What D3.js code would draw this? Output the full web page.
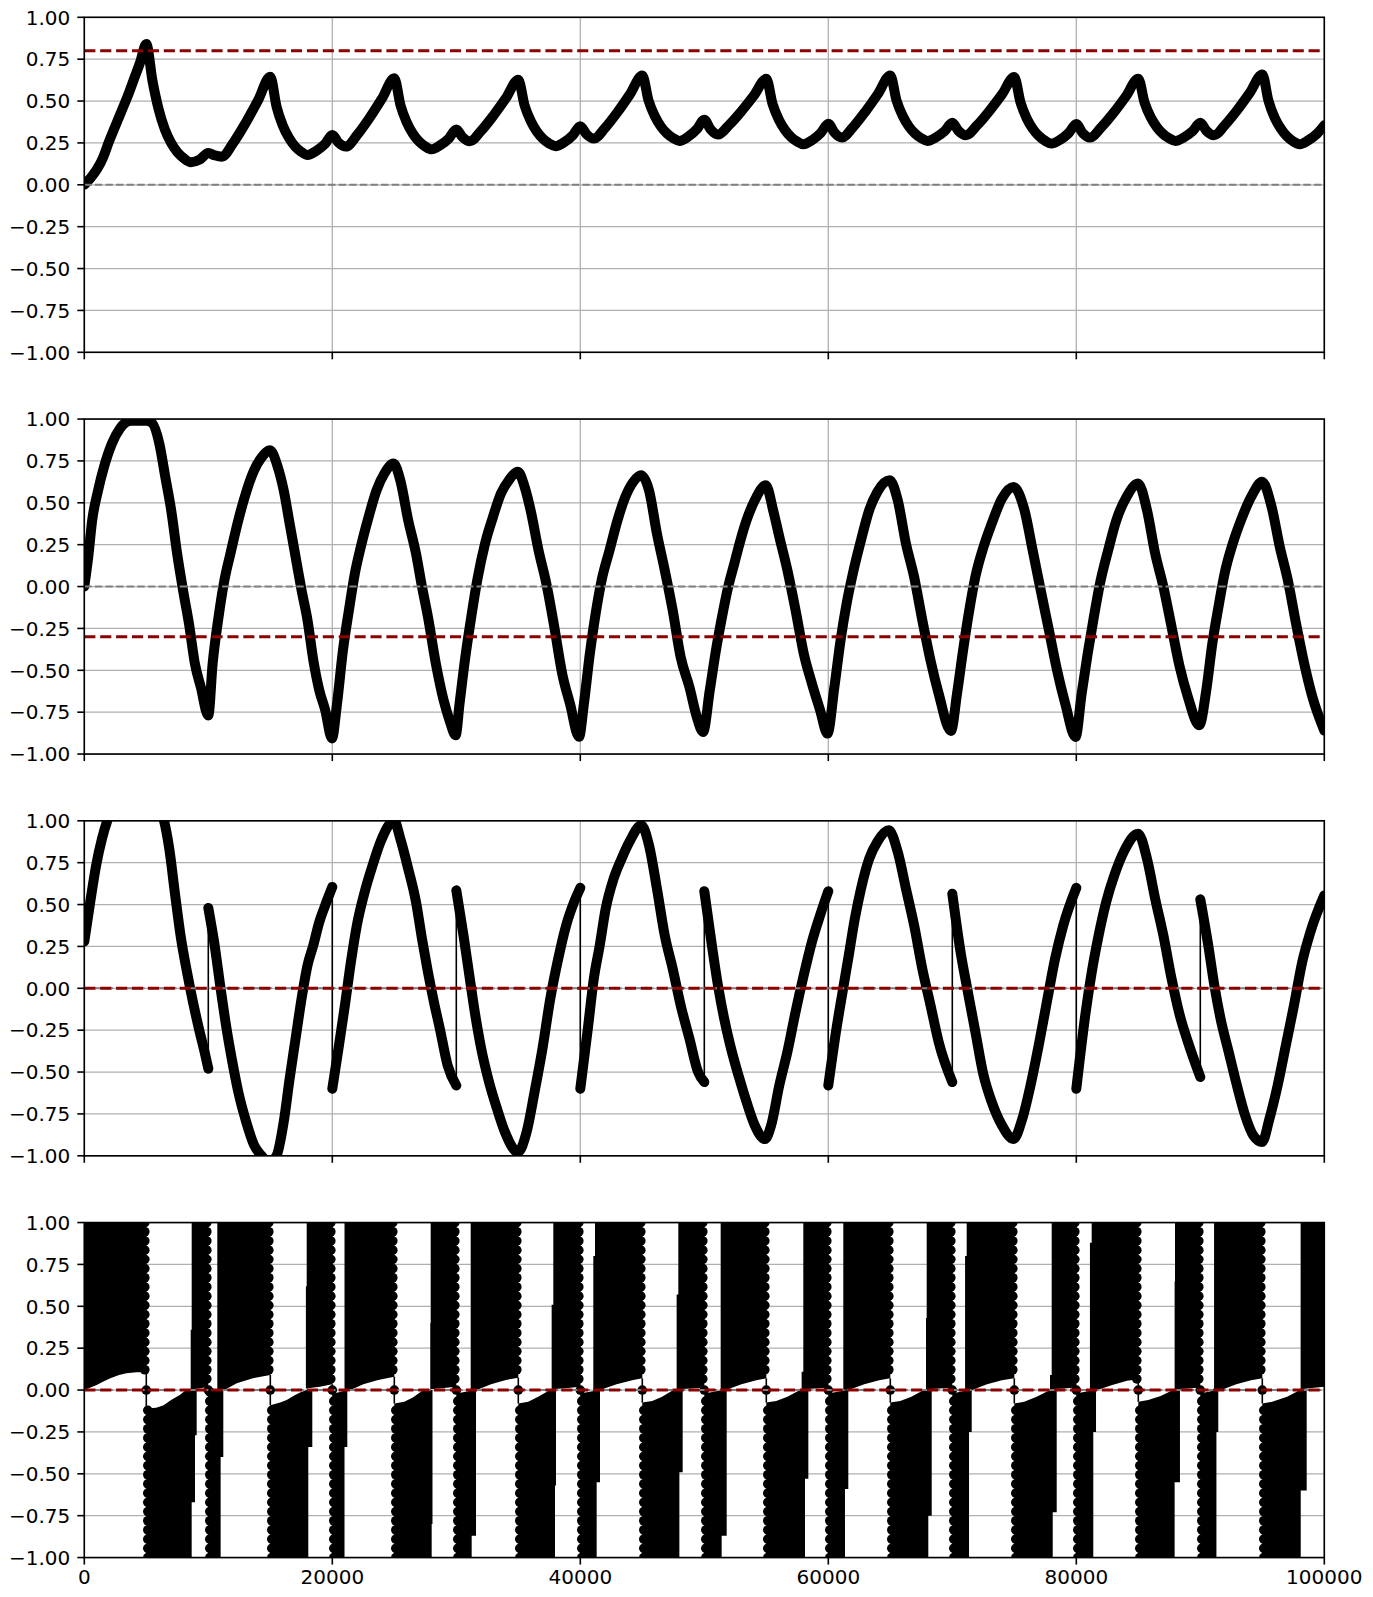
<!DOCTYPE html>
<html><head><meta charset="utf-8">
<script src="https://cdnjs.cloudflare.com/ajax/libs/d3/7.8.5/d3.min.js"></script>
<style>
body{margin:0;background:#fff}
svg text{font-family:"DejaVu Sans";font-size:20px;fill:#000}
</style>
</head><body>
<svg id="chart" width="1373" height="1597"></svg>
<script>
// ---------------- data ----------------
const xTicks = [0, 20000, 40000, 60000, 80000, 100000];
const xTickLabels = ["0", "20000", "40000", "60000", "80000", "100000"];
const yTicks = [-1, -0.75, -0.5, -0.25, 0, 0.25, 0.5, 0.75, 1];
const yTickLabels = ["\u22121.00", "\u22120.75", "\u22120.50", "\u22120.25", "0.00", "0.25", "0.50", "0.75", "1.00"];
const thresholds = [0.8, -0.3, 0, 0];

const series1 = [
[0,0.0],[500,0.04],[1000,0.09],[1500,0.16],[2000,0.26],[2500,0.35],[3000,0.44],[3500,0.53],[4000,0.63],[4500,0.73],[5000,0.84],[5500,0.62],[6000,0.45],[6500,0.33],[7000,0.25],[7500,0.195],[8000,0.16],[8600,0.135],[9300,0.15],[10000,0.19],
[10500,0.176],[11100,0.168],[12000,0.249],[13000,0.368],[14000,0.502],[15000,0.645],[15500,0.468],[16000,0.355],[16500,0.281],[17000,0.229],[17500,0.197],[18000,0.178],[18700,0.202],[19400,0.243],[20000,0.297],
[20500,0.252],[21100,0.228],[22000,0.297],[23000,0.399],[24000,0.514],[25000,0.636],[25500,0.475],[26000,0.373],[26500,0.305],[27000,0.259],[27500,0.229],[28000,0.212],[28700,0.236],[29400,0.277],[30000,0.33],
[30500,0.285],[31100,0.26],[32000,0.322],[33000,0.414],[34000,0.517],[35000,0.627],[35500,0.476],[36000,0.381],[36500,0.317],[37000,0.274],[37500,0.246],[38000,0.23],[38700,0.254],[39400,0.296],[40000,0.35],
[40500,0.302],[41100,0.276],[42000,0.34],[43000,0.434],[44000,0.54],[45000,0.653],[45500,0.504],[46000,0.411],[46500,0.348],[47000,0.305],[47500,0.278],[48000,0.262],[48700,0.287],[49400,0.332],[50000,0.389],
[50500,0.331],[51100,0.30],[52000,0.357],[53000,0.44],[54000,0.533],[55000,0.633],[55500,0.484],[56000,0.391],[56500,0.328],[57000,0.285],[57500,0.258],[58000,0.242],[58700,0.267],[59400,0.31],[60000,0.365],
[60500,0.311],[61100,0.282],[62000,0.345],[63000,0.438],[64000,0.542],[65000,0.653],[65500,0.504],[66000,0.411],[66500,0.348],[67000,0.305],[67500,0.278],[68000,0.262],[68700,0.284],[69400,0.322],[70000,0.371],
[70500,0.322],[71100,0.296],[72000,0.355],[73000,0.442],[74000,0.539],[75000,0.643],[75500,0.492],[76000,0.397],[76500,0.333],[77000,0.29],[77500,0.262],[78000,0.246],[78700,0.269],[79400,0.31],[80000,0.363],
[80500,0.31],[81100,0.282],[82000,0.342],[83000,0.429],[84000,0.528],[85000,0.633],[85500,0.492],[86000,0.403],[86500,0.344],[87000,0.303],[87500,0.277],[88000,0.262],[88700,0.284],[89400,0.322],[90000,0.371],
[90500,0.322],[91100,0.296],[92000,0.358],[93000,0.448],[94000,0.55],[95000,0.659],[95500,0.501],[96000,0.4],[96500,0.334],[97000,0.288],[97500,0.259],[98000,0.242],[98700,0.265],[99400,0.304],[100000,0.355]
];

const series2 = [
[0,0.0],[318,0.177],[637,0.396],[1115,0.575],[1590,0.714],[2230,0.854],[2870,0.943],[3340,0.98],[3800,0.99],[4400,0.99],[5000,0.99],[5415,0.98],[6050,0.854],[6530,0.655],[7007,0.456],[7485,0.197],[7963,-0.022],[8440,-0.221],[8918,-0.46],[9395,-0.6],[10000,-0.77],
[10350,-0.46],[10830,-0.18],[11300,0.038],[11785,0.197],[12420,0.396],[13060,0.565],[13700,0.695],[14330,0.774],[14970,0.814],[15600,0.714],[16080,0.575],[16560,0.376],[17040,0.177],[17520,-0.022],[18000,-0.2],[18470,-0.44],[18950,-0.619],[19430,-0.738],[19970,-0.907],
[20380,-0.7],[20860,-0.38],[21340,-0.141],[21820,0.078],[22300,0.237],[22930,0.416],[23570,0.575],[24200,0.675],[24940,0.734],[25480,0.635],[26120,0.396],[26750,0.197],[27230,0.0],[27710,-0.18],[28350,-0.46],[28980,-0.679],[29460,-0.8],[29950,-0.888],
[30260,-0.7],[30730,-0.42],[31210,-0.18],[31690,0.038],[32320,0.257],[32960,0.416],[33600,0.555],[34240,0.635],[34970,0.685],[35510,0.595],[35990,0.456],[36630,0.217],[37260,0.018],[37900,-0.24],[38540,-0.52],[39170,-0.7],[39900,-0.897],
[40290,-0.7],[40770,-0.4],[41240,-0.16],[41720,0.038],[42360,0.217],[43000,0.396],[43630,0.535],[44270,0.625],[44900,0.665],[45540,0.575],[46180,0.316],[46810,0.098],[47450,-0.141],[48090,-0.42],[48800,-0.6],[49400,-0.78],[49900,-0.868],
[50440,-0.62],[50940,-0.38],[51430,-0.18],[51930,0.0],[52420,0.137],[52920,0.277],[53410,0.396],[54070,0.515],[54960,0.605],[55550,0.456],[56050,0.297],[56700,0.098],[57360,-0.141],[58020,-0.4],[58680,-0.579],[59340,-0.738],[59930,-0.878],
[60490,-0.6],[60990,-0.32],[61480,-0.1],[61980,0.078],[62640,0.277],[63300,0.456],[63950,0.565],[64940,0.635],[65600,0.515],[66260,0.257],[66920,0.058],[67580,-0.2],[68240,-0.44],[68900,-0.639],[69890,-0.862],
[70380,-0.64],[70870,-0.38],[71370,-0.141],[71860,0.058],[72520,0.237],[73180,0.376],[74000,0.525],[74930,0.595],[75820,0.456],[76480,0.217],[77130,-0.022],[77790,-0.26],[78450,-0.5],[79110,-0.7],[79940,-0.898],
[80430,-0.64],[80920,-0.4],[81420,-0.18],[81910,0.018],[82570,0.217],[83230,0.396],[84050,0.535],[84980,0.615],[85700,0.456],[86360,0.197],[87020,0.0],[87680,-0.24],[88340,-0.48],[89000,-0.659],[89920,-0.828],
[90480,-0.62],[90970,-0.34],[91470,-0.12],[91960,0.078],[92620,0.257],[93280,0.396],[94100,0.535],[94990,0.625],[95750,0.476],[96410,0.237],[97060,0.038],[97720,-0.221],[98380,-0.46],[99040,-0.659],[100000,-0.86]
];

const series3 = [
[0,0.28],[478,0.515],[955,0.734],[1430,0.894],[1850,1.0],[2500,1.1],[3500,1.17],[4500,1.2],[5500,1.16],[6000,1.08],[6430,1.0],[6850,0.834],[7330,0.555],[7800,0.297],[8280,0.098],[8760,-0.08],[9240,-0.24],[9700,-0.38],[10000,-0.48],
[10000,0.48],[10510,0.257],[10990,0.0],[11470,-0.24],[11940,-0.44],[12420,-0.619],[13060,-0.798],[13700,-0.937],[14300,-1.0],[14900,-1.04],[15500,-1.0],[16080,-0.798],[16560,-0.539],[17040,-0.3],[17520,-0.062],[18000,0.137],[18470,0.257],[18950,0.396],[19430,0.496],[20000,0.605],
[20000,-0.6],[20540,-0.34],[21020,-0.1],[21500,0.157],[21980,0.376],[22610,0.575],[23250,0.734],[23890,0.874],[25000,1.0],[25480,0.894],[26120,0.714],[26750,0.515],[27230,0.297],[27710,0.098],[28190,-0.08],[28670,-0.24],[29300,-0.46],[30000,-0.58],
[30000,0.585],[30580,0.316],[31050,0.078],[31530,-0.16],[32010,-0.36],[32640,-0.559],[33280,-0.718],[33920,-0.858],[34970,-0.977],[35670,-0.858],[36310,-0.619],[36950,-0.36],[37580,-0.062],[38220,0.177],[38860,0.376],[39500,0.515],[40000,0.6],
[40000,-0.6],[40610,-0.24],[41090,0.058],[41570,0.257],[42050,0.476],[42690,0.655],[43330,0.774],[43960,0.874],[44920,0.973],[45540,0.854],[46180,0.595],[46810,0.316],[47450,0.117],[48090,-0.1],[48800,-0.3],[49500,-0.5],[50000,-0.56],
[50000,0.58],[50610,0.257],[51100,0.018],[51600,-0.18],[52090,-0.34],[52750,-0.519],[53410,-0.679],[54070,-0.818],[54890,-0.9],[55390,-0.818],[56050,-0.579],[56700,-0.38],[57360,-0.141],[58020,0.078],[58680,0.277],[59340,0.436],[60000,0.58],
[60000,-0.58],[60660,-0.24],[61150,-0.022],[61650,0.197],[62140,0.416],[62640,0.595],[63300,0.774],[63950,0.874],[64880,0.943],[65600,0.814],[66260,0.595],[66920,0.376],[67580,0.117],[68240,-0.1],[68900,-0.32],[70000,-0.56],
[70000,0.565],[70710,0.197],[71200,0.0],[71860,-0.26],[72520,-0.519],[73180,-0.679],[74000,-0.818],[74930,-0.9],[75650,-0.778],[76310,-0.579],[76970,-0.34],[77630,-0.08],[78290,0.177],[78950,0.376],[80000,0.6],
[80000,-0.6],[80760,-0.141],[81250,0.098],[81750,0.297],[82410,0.515],[83070,0.675],[83890,0.824],[84980,0.923],[85700,0.774],[86360,0.535],[87020,0.316],[87680,0.058],[88340,-0.16],[89000,-0.32],[90000,-0.53],
[90000,0.531],[90640,0.257],[91130,0.018],[91630,-0.18],[92290,-0.38],[92950,-0.579],[93610,-0.758],[94270,-0.878],[94990,-0.917],[95580,-0.778],[96240,-0.579],[96900,-0.34],[97560,-0.1],[98220,0.157],[98880,0.336],[100000,0.555]
];

// Panel 4: dense alternating signal, read as filled bands.
// upper band: [left edge steps [x, upToY], end x, inner edge [x, y]]
const upperBands = [
[[[0,1]], 5000, [[0,0],[500,0.015],[1000,0.03],[1500,0.05],[2100,0.07],[2800,0.09],[3400,0.10],[4200,0.107],[5000,0.107]]],
[[[8580,0.36],[8660,1]], 10000, [[8580,0.005],[9300,0.01],[10000,0.02]]],
[[[10726,1]], 15000, [[10726,0],[11300,0],[12300,0.04],[13600,0.07],[15000,0.09]]],
[[[17870,0.62],[17935,1]], 20000, [[17870,0.01],[19000,0.02],[20000,0.034]]],
[[[20985,1]], 25000, [[20985,0],[21600,0.005],[22500,0.035],[23700,0.06],[25000,0.08]]],
[[[27900,0.4],[27934,1]], 30000, [[27900,0.005],[29000,0.012],[30000,0.02]]],
[[[31160,1]], 35000, [[31160,0],[31800,0.005],[32800,0.035],[34000,0.06],[35000,0.074]]],
[[[37690,0.51],[37823,1]], 40000, [[37690,0.005],[39000,0.012],[40000,0.02]]],
[[[41050,0.8],[41185,1]], 45000, [[41050,0],[41590,0],[42930,0.034],[44270,0.06],[45000,0.07]]],
[[[47770,0.57],[47905,1]], 50000, [[47770,0.005],[49000,0.01],[50000,0.015]]],
[[[51320,1]], 55000, [[51320,0],[51900,0.005],[53000,0.035],[54200,0.058],[55000,0.07]]],
[[[57850,0.11],[57985,1]], 60000, [[57850,0.005],[59000,0.01],[60000,0.015]]],
[[[61210,1]], 65000, [[61210,0],[61800,0.005],[62900,0.035],[64100,0.058],[65000,0.07]]],
[[[67880,0.43],[67935,1]], 70000, [[67880,0.005],[69000,0.01],[70000,0.015]]],
[[[71030,0.8],[71160,1]], 75000, [[71030,0],[71600,0],[72800,0.035],[74000,0.058],[75000,0.07]]],
[[[77880,0.09],[78015,1]], 80000, [[77880,0.005],[79000,0.01],[80000,0.015]]],
[[[81100,0.88],[81240,1]], 85000, [[81100,0],[81700,0],[82900,0.03],[84100,0.055],[85000,0.065]]],
[[[87930,0.65],[87960,1]], 90000, [[87930,0.005],[89000,0.01],[90000,0.015]]],
[[[91110,1]], 95000, [[91110,0],[91700,0],[92900,0.035],[94100,0.058],[95000,0.07]]],
[[[98090,1]], 100000, [[98090,0.005],[99000,0.012],[100000,0.02]]]
];
// lower band: [start x, inner edge [x, y], right edge steps [x, downToY]]
const lowerBands = [
[5000, [[5000,-0.11],[5800,-0.105],[6400,-0.09],[7000,-0.06],[7700,-0.03],[8200,0]], [[9063,-0.27],[8930,-0.67],[8660,-1]]],
[10000, [[10000,-0.01],[11200,0]], [[11210,-0.4],[10995,-1]]],
[15000, [[15000,-0.09],[15800,-0.075],[16320,-0.06],[17000,-0.03],[17400,-0.014],[17935,0]], [[18387,-0.34],[18064,-1]]],
[20000, [[20000,-0.024],[21200,0]], [[21210,-0.34],[20985,-1]]],
[25000, [[25000,-0.08],[25800,-0.07],[26500,-0.045],[27340,0]], [[28080,-0.8],[28015,-1]]],
[30000, [[30000,-0.02],[31500,0]], [[31590,-0.87],[31240,-1]]],
[35000, [[35000,-0.08],[35800,-0.07],[36600,-0.04],[37555,0]], [[38040,-0.57],[37960,-1]]],
[40000, [[40000,-0.02],[41500,0]], [[41588,-0.55],[41320,-1]]],
[45000, [[45000,-0.075],[45800,-0.065],[46600,-0.04],[47500,0]], [[48256,-0.49],[47990,-1]]],
[50000, [[50000,-0.02],[51500,0]], [[51806,-0.87],[51400,-1]]],
[55000, [[55000,-0.075],[55800,-0.065],[56700,-0.04],[57720,0]], [[58390,-0.53],[58120,-1]]],
[60000, [[60000,-0.02],[61500,0]], [[61613,-0.59],[61345,-1]]],
[65000, [[65000,-0.075],[65800,-0.065],[66700,-0.04],[67700,0]], [[68340,-0.75],[68065,-1]]],
[70000, [[70000,-0.02],[71300,0]], [[71565,-0.25],[71350,-1]]],
[75000, [[75000,-0.08],[75800,-0.07],[76800,-0.04],[77880,0]], [[78420,-0.73],[78100,-1]]],
[80000, [[80000,-0.02],[81400,0]], [[81590,-0.25],[81370,-1]]],
[85000, [[85000,-0.07],[85800,-0.06],[86800,-0.035],[87800,0]], [[88360,-0.55],[87930,-1]]],
[90000, [[90000,-0.02],[91300,0]], [[91450,-0.25],[91300,-1]]],
[95000, [[95000,-0.08],[95800,-0.07],[97000,-0.04],[98040,0]], [[98580,-0.6],[98100,-1]]]
];
const switchPoints = [5000,10000,15000,20000,25000,30000,35000,40000,45000,50000,55000,60000,65000,70000,75000,80000,85000,90000,95000];

// ---------------- layout ----------------
const L = 84.3, R = 1324.3, PH = 335;
const tops = [17.3, 419.05, 820.8, 1222.55];
const svg = d3.select("#chart");
const x = d3.scaleLinear().domain([0, 100000]).range([L, R]);

function splitSegments(s) {
  const segs = [[s[0]]];
  for (let i = 1; i < s.length; i++) {
    if (s[i][0] === s[i-1][0]) segs.push([s[i]]);
    else segs[segs.length-1].push(s[i]);
  }
  return segs;
}

tops.forEach((top, i) => {
  const y = d3.scaleLinear().domain([-1, 1]).range([top + PH, top]);
  const g = svg.append("g");
  const cid = "clip" + i;
  svg.append("clipPath").attr("id", cid).append("rect")
    .attr("x", L).attr("y", top).attr("width", R - L).attr("height", PH);

  // grid
  g.selectAll(null).data(xTicks).enter().append("line")
    .attr("x1", d => x(d)).attr("x2", d => x(d)).attr("y1", top).attr("y2", top + PH)
    .attr("stroke", "#b0b0b0").attr("stroke-width", 1.3);
  g.selectAll(null).data(yTicks).enter().append("line")
    .attr("x1", L).attr("x2", R).attr("y1", d => y(d)).attr("y2", d => y(d))
    .attr("stroke", "#b0b0b0").attr("stroke-width", 1.3);

  const dg = g.append("g").attr("clip-path", `url(#${cid})`);
  const line = d3.line().x(d => x(d[0])).y(d => y(d[1]));
  const smooth = d3.line().x(d => x(d[0])).y(d => y(d[1])).curve(d3.curveMonotoneX);

  if (i < 3) {
    const s = [series1, series2, series3][i];
    dg.append("path").attr("d", line(s)).attr("fill", "none")
      .attr("stroke", "#000").attr("stroke-width", 1.6);
    splitSegments(s).forEach(seg => {
      dg.append("path").attr("d", smooth(seg)).attr("fill", "none")
        .attr("stroke", "#000").attr("stroke-width", 10)
        .attr("stroke-linecap", "round").attr("stroke-linejoin", "round");
    });
  } else {
    // upper bands
    upperBands.forEach(b => {
      const steps = b[0], xEnd = b[1], edge = b[2];
      const pts = [];
      let yPrev = edge[0][1];
      pts.push([steps[0][0], yPrev]);
      steps.forEach(st => { pts.push([st[0], yPrev]); pts.push([st[0], st[1]]); yPrev = st[1]; });
      pts.push([xEnd, 1]);
      edge.slice().reverse().forEach(p => pts.push(p));
      dg.append("path").attr("d", line(pts) + "Z").attr("fill", "#000");
    });
    // lower bands
    lowerBands.forEach(b => {
      const x0 = b[0], edge = b[1], steps = b[2];
      const pts = [[x0, -1]];
      edge.forEach(p => pts.push(p));
      let yPrev = edge[edge.length-1][1];
      steps.forEach(st => { pts.push([st[0], yPrev]); pts.push([st[0], st[1]]); yPrev = st[1]; });
      dg.append("path").attr("d", line(pts) + "Z").attr("fill", "#000");
    });
    // marker columns at the sign switches
    const dy = 9.2 / (PH / 2);
    switchPoints.forEach(sx => {
      const ub = upperBands.find(b => b[1] === sx);
      const lb = lowerBands.find(b => b[0] === sx);
      const ue = ub[2][ub[2].length-1][1];
      const le = lb[1][0][1];
      dg.append("line").attr("x1", x(sx)).attr("x2", x(sx)).attr("y1", y(ue)).attr("y2", y(le))
        .attr("stroke", "#000").attr("stroke-width", 1.6);
      const ups = d3.range(1, ue, -dy);
      const los = d3.range(-1, le, dy);
      dg.selectAll(null).data(ups).enter().append("circle")
        .attr("cx", x(sx) - 1.5).attr("cy", d => y(d)).attr("r", 4.8).attr("fill", "#000");
      dg.selectAll(null).data(los).enter().append("circle")
        .attr("cx", x(sx) + 1.5).attr("cy", d => y(d)).attr("r", 4.8).attr("fill", "#000");
      dg.append("circle").attr("cx", x(sx)).attr("cy", y(0)).attr("r", 4.8).attr("fill", "#000");
    });
  }

  // reference lines
  dg.append("line").attr("x1", L).attr("x2", R).attr("y1", y(0)).attr("y2", y(0))
    .attr("stroke", "#808080").attr("stroke-width", 2).attr("stroke-dasharray", "7.4 3.2");
  dg.append("line").attr("x1", L).attr("x2", R).attr("y1", y(thresholds[i])).attr("y2", y(thresholds[i]))
    .attr("stroke", "#8b0000").attr("stroke-width", 3).attr("stroke-dasharray", "11.1 4.8");

  // spines
  g.append("rect").attr("x", L).attr("y", top).attr("width", R - L).attr("height", PH)
    .attr("fill", "none").attr("stroke", "#000").attr("stroke-width", 1.6);

  // y ticks
  g.selectAll(null).data(yTicks).enter().append("line")
    .attr("x1", L - 7).attr("x2", L).attr("y1", d => y(d)).attr("y2", d => y(d))
    .attr("stroke", "#000").attr("stroke-width", 1.6);
  g.selectAll(null).data(yTicks).enter().append("text")
    .attr("x", L - 14).attr("y", d => y(d) + 7.2).attr("text-anchor", "end")
    .text((d, k) => yTickLabels[k]);

  // x ticks
  g.selectAll(null).data(xTicks).enter().append("line")
    .attr("x1", d => x(d)).attr("x2", d => x(d)).attr("y1", top + PH).attr("y2", top + PH + 7)
    .attr("stroke", "#000").attr("stroke-width", 1.6);
  if (i === 3) {
    g.selectAll(null).data(xTicks).enter().append("text")
      .attr("x", d => x(d)).attr("y", top + PH + 26.2).attr("text-anchor", "middle")
      .text((d, k) => xTickLabels[k]);
  }
});
</script>
</body></html>
